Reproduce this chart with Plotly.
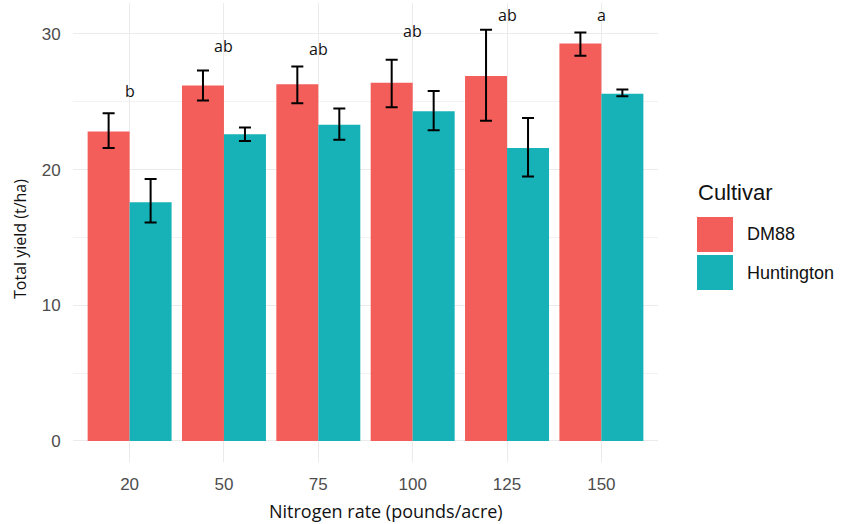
import plotly.graph_objects as go

rates = ["20", "50", "75", "100", "125", "150"]
dm88 = [22.8, 26.2, 26.3, 26.4, 26.9, 29.3]
dm88_hi = [24.15, 27.3, 27.6, 28.1, 30.3, 30.1]
dm88_lo = [21.6, 25.1, 24.9, 24.6, 23.6, 28.4]
hunt = [17.6, 22.6, 23.3, 24.3, 21.6, 25.6]
hunt_hi = [19.3, 23.1, 24.5, 25.8, 23.8, 25.9]
hunt_lo = [16.1, 22.1, 22.2, 22.9, 19.5, 25.4]
letters = ["b", "ab", "ab", "ab", "ab", "a"]
letter_y = [25.8, 29.1, 28.9, 30.2, 31.4, 31.4]

RED = "#F35E5A"
TEAL = "#17B2B7"

# pixel geometry helpers
L, R, T, B = 73, 658, 3, 462
W, H = 841, 524
def px(x):
    return (x - L) / (R - L)
def py(y):
    return (B - y) / (B - T)

fig = go.Figure()
for name, vals, hi, lo, col in [("DM88", dm88, dm88_hi, dm88_lo, RED),
                                ("Huntington", hunt, hunt_hi, hunt_lo, TEAL)]:
    fig.add_trace(go.Bar(
        name=name, x=rates, y=vals, marker=dict(color=col, line=dict(width=0)),
        error_y=dict(type="data", symmetric=False,
                     array=[h - v for h, v in zip(hi, vals)],
                     arrayminus=[v - l for v, l in zip(vals, lo)],
                     color="black", thickness=2, width=6),
        showlegend=False,
    ))

for i, (t, yv) in enumerate(zip(letters, letter_y)):
    fig.add_annotation(x=i, y=yv, text=t, showarrow=False, xref="x", yref="y",
                       xanchor="center", yanchor="middle",
                       font=dict(family="Open Sans", size=16, color="#111111"))

# legend (drawn manually to match large ggplot keys)
fig.add_annotation(x=px(696), y=py(192), xref="paper", yref="paper", text="Cultivar",
                   showarrow=False, xanchor="left", yanchor="middle",
                   font=dict(family="Liberation Sans", size=22, color="#111111"))
for (lab, col, top, ty) in [("DM88", RED, 217, 234), ("Huntington", TEAL, 255, 273)]:
    fig.add_shape(type="rect", xref="paper", yref="paper",
                  x0=px(697), x1=px(733), y0=py(top), y1=py(top + 35),
                  fillcolor=col, line=dict(width=0))
    fig.add_annotation(x=px(745), y=py(ty), xref="paper", yref="paper", text=lab,
                       showarrow=False, xanchor="left", yanchor="middle",
                       font=dict(family="Liberation Sans", size=18, color="#111111"))

# axis titles
fig.add_annotation(x=px(20), y=py(239), xref="paper", yref="paper",
                   text="Total yield (t/ha)", textangle=-90, showarrow=False,
                   xanchor="center", yanchor="middle",
                   font=dict(family="Open Sans", size=16, color="#111111"))
fig.add_annotation(x=px(386), y=py(511), xref="paper", yref="paper",
                   text="Nitrogen rate (pounds/acre)", showarrow=False,
                   xanchor="center", yanchor="middle",
                   font=dict(family="Open Sans", size=18, color="#111111"))

fig.update_layout(
    width=W, height=H,
    margin=dict(l=L, r=W - R, t=T, b=H - B),
    paper_bgcolor="white", plot_bgcolor="white",
    barmode="group", bargap=0.11, bargroupgap=0,
    xaxis=dict(type="category", range=[-0.6, 5.6], showgrid=True,
               gridcolor="#EBEBEB", gridwidth=1.3, zeroline=False, showline=False,
               ticks="outside", ticklen=7, tickcolor="rgba(0,0,0,0)",
               tickfont=dict(family="Liberation Sans", size=17, color="#4D4D4D")),
    yaxis=dict(range=[-1.55, 32.28], tickvals=[0, 10, 20, 30], showgrid=True,
               gridcolor="#EBEBEB", gridwidth=1.3, zeroline=False, showline=False,
               ticks="outside", ticklen=8, tickcolor="rgba(0,0,0,0)",
               tickfont=dict(family="Liberation Sans", size=17, color="#4D4D4D"),
               minor=dict(tickvals=[5, 15, 25], showgrid=True, gridcolor="#F2F2F2",
                          gridwidth=0.8)),
)

fig.write_html("out.html", config={"displayModeBar": False},
               post_script="document.body.style.margin='0';")
